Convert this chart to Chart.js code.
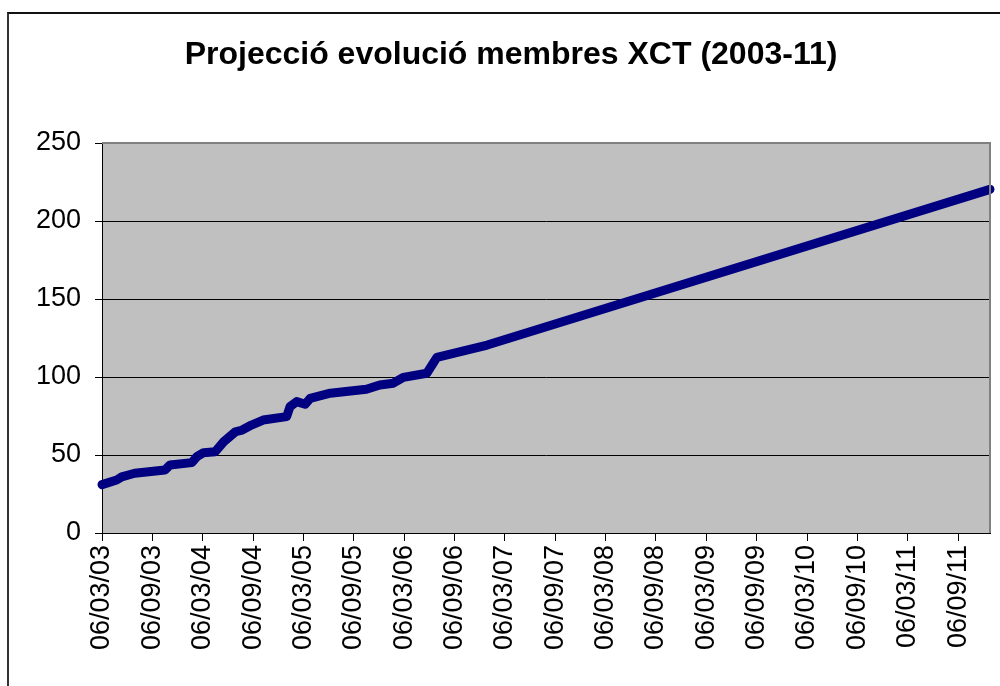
<!DOCTYPE html>
<html lang="ca">
<head>
<meta charset="utf-8">
<title>Projecció evolució membres XCT</title>
<script src="https://cdn.jsdelivr.net/npm/chart.js@4"></script>
<style>
    html, body { margin: 0; padding: 0; background: #fff; overflow: hidden; }
    #marc {
        position: absolute;
        left: 0; top: 0;
        width: 1000px; height: 686px;
    }
    #vora {
        position: absolute;
        left: 7px; top: 12px;
        width: 1010px; height: 700px;
        border-left: 2px solid #333;
        border-top: 2px solid #111;
        pointer-events: none;
    }
</style>
</head>
<body>
<div id="marc">
    <canvas id="grafic-membres" width="1000" height="686"></canvas>
    <div id="vora"></div>
</div>
<script>
// =====================================================
// DADES
// =====================================================

// Mesos des del 06/03/2003 (llegits del gràfic)
const mesos = [
    0, 1.75, 2.35, 3.9, 7.5, 8.1, 10.7, 11.3, 12.1, 13.5,
    14.5, 15.9, 16.7, 17.8, 19.2, 22.0, 22.4, 23.2, 24.2, 24.8,
    27.2, 28.8, 31.5, 33.1, 34.7, 35.9, 38.7, 39.9, 45.9, 105.8
];

// Nombre de membres (real fins al 2006, projecció després)
const membres = [
    31, 34, 36, 38.3, 40.4, 43.6, 45.1, 48.9, 51.5, 52.1,
    58.5, 64.9, 66, 69.2, 72.4, 74.6, 81, 84.2, 82.5, 86.3,
    89.6, 90.6, 92.1, 94.9, 96, 99.8, 102.4, 112.6, 120.5, 220.3
];

// Etiquetes de l'eix X (cada 6 mesos)
const etiquetesX = [
    '06/03/03', '06/09/03', '06/03/04', '06/09/04', '06/03/05', '06/09/05',
    '06/03/06', '06/09/06', '06/03/07', '06/09/07', '06/03/08', '06/09/08',
    '06/03/09', '06/09/09', '06/03/10', '06/09/10', '06/03/11', '06/09/11'
];
const pasEtiquetes = 6;

const titol = 'Projecció evolució membres XCT (2003-11)';

// =====================================================
// CONFIGURACIÓ
// =====================================================

const FONT = "'Liberation Sans', Arial, Helvetica, sans-serif";

// Fons gris de l'àrea del gràfic
const fonsArea = {
    id: 'fonsArea',
    beforeDraw(chart) {
        const { ctx, chartArea: a } = chart;
        ctx.save();
        ctx.fillStyle = '#c0c0c0';
        ctx.fillRect(a.left, a.top, a.right - a.left, a.bottom - a.top);
        ctx.restore();
    },
    afterDatasetsDraw(chart) {
        // vora grisa superior i dreta
        const { ctx, chartArea: a } = chart;
        ctx.save();
        ctx.strokeStyle = '#808080';
        ctx.lineWidth = 2;
        ctx.beginPath();
        ctx.moveTo(a.left, a.top);
        ctx.lineTo(a.right, a.top);
        ctx.lineTo(a.right, a.bottom);
        ctx.stroke();
        ctx.restore();
    }
};

function crearGrafic() {
    const ctx = document.getElementById('grafic-membres');

    new Chart(ctx, {
        type: 'line',
        data: {
            datasets: [{
                label: 'Membres',
                data: mesos.map((m, i) => ({ x: m, y: membres[i] })),
                borderColor: '#000080',
                borderWidth: 9,
                borderCapStyle: 'round',
                borderJoinStyle: 'round',
                pointRadius: 0,
                tension: 0,
                fill: false,
                clip: false
            }]
        },
        options: {
            responsive: false,
            animation: false,
            // marge esquerre perquè el títol quedi centrat com a l'original
            layout: { padding: { left: 32, right: 10, top: 0, bottom: 0 } },
            plugins: {
                legend: { display: false },
                tooltip: { enabled: false },
                title: {
                    display: true,
                    text: titol,
                    color: '#000',
                    font: { family: FONT, size: 32, weight: 'bold' },
                    padding: { top: 36, bottom: 68.6 }
                }
            },
            scales: {
                x: {
                    type: 'linear',
                    min: 0,
                    max: mesos[mesos.length - 1],
                    afterBuildTicks(scale) {
                        scale.ticks = etiquetesX.map((_, i) => ({ value: i * pasEtiquetes }));
                    },
                    afterFit(scale) { scale.height = 153; },
                    ticks: {
                        autoSkip: false,
                        minRotation: 90,
                        maxRotation: 90,
                        padding: 4,
                        color: '#000',
                        font: { family: FONT, size: 27 },
                        callback: (v) => etiquetesX[Math.round(v / pasEtiquetes)]
                    },
                    grid: {
                        drawOnChartArea: false,
                        drawTicks: true,
                        tickLength: 8,
                        color: '#000'
                    },
                    border: { display: true, color: '#000', width: 1 }
                },
                y: {
                    min: 0,
                    max: 250,
                    afterFit(scale) { scale.width = 70; },
                    ticks: {
                        stepSize: 50,
                        padding: 14,
                        color: '#000',
                        font: { family: FONT, size: 27 }
                    },
                    grid: {
                        color: '#000',
                        lineWidth: 1,
                        drawTicks: true,
                        tickLength: 7
                    },
                    border: { display: true, color: '#000', width: 1 }
                }
            }
        },
        plugins: [fonsArea]
    });
}

crearGrafic();
</script>
</body>
</html>
